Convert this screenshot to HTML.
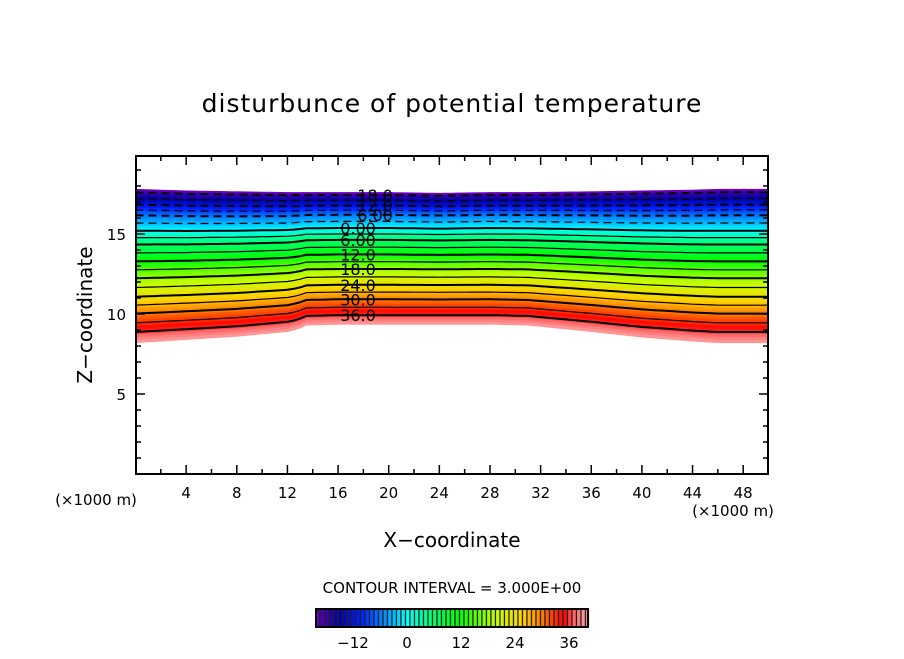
<!DOCTYPE html>
<html><head><meta charset="utf-8"><style>
body{margin:0;background:#fff;}
svg text{font-family:"DejaVu Sans","Liberation Sans",sans-serif;fill:#000;}
</style></head><body>
<svg id="chart" width="904" height="654" viewBox="0 0 904 654" xmlns="http://www.w3.org/2000/svg">
<text x="452" y="112" font-size="25" text-anchor="middle" letter-spacing="1">disturbunce of potential temperature</text>
<g id="fields"></g>
<g id="lines"></g>
<g id="labels"></g>
<rect x="136" y="156" width="632" height="318" fill="none" stroke="#000" stroke-width="2"/>
<g id="axes"></g>
<text transform="translate(92,315) rotate(-90)" font-size="20" text-anchor="middle">Z−coordinate</text>
<text x="452" y="547" font-size="20" text-anchor="middle">X−coordinate</text>
<text x="96" y="505" font-size="15" text-anchor="middle">(×1000 m)</text>
<text x="733" y="516" font-size="15" text-anchor="middle">(×1000 m)</text>
<text x="452" y="593" font-size="15" text-anchor="middle">CONTOUR INTERVAL = 3.000E+00</text>
<g id="cbar"></g>
</svg>
<script>
const NS="http://www.w3.org/2000/svg";
// bottom / top boundary of the field
const stationX=[0,4,8,12,12.8,13.5,16,20,24,28,31,36,40,44,46,50];
const zBottom=[8.2,8.4,8.6,8.9,9.05,9.3,9.35,9.35,9.35,9.35,9.3,8.9,8.55,8.3,8.2,8.2];
const zTop=[17.8,17.7,17.65,17.6,17.6,17.6,17.6,17.6,17.55,17.6,17.6,17.65,17.7,17.75,17.8,17.8];
// vertical profile: value -> fraction between bottom and top
const profVals=[40,36,30,24,18,12,6,0,-6,-12,-18,-21];
const profFrac=[0,0.07,0.19,0.30,0.42,0.53,0.64,0.73,0.83,0.90,0.98,1];
const contourLevels=[-18,-15,-12,-9,-6,-3,0,3,6,9,12,15,18,21,24,27,30,33,36];
const labelLevels=["-18.0","-12.0","-6.00","0.00","6.00","12.0","18.0","24.0","30.0","36.0"];
const labelVals=[-18,-12,-6,0,6,12,18,24,30,36];
const xTicks=[4,8,12,16,20,24,28,32,36,40,44,48];
const yTicks=[5,10,15];
const cbarTicks=[-12,0,12,24,36];
const colorVals=[-21,-15,-10,-4,0,5,12,20,26,30,35,37,40];
const colorHex=["#8000c0","#0000a0","#0020ff","#00a0ff","#00ffff","#00ff80","#00ff00","#c8ff00","#ffd000","#ff8000","#ff0000","#ff6060","#ffa0a0"];

const X=x=>135.5+x*12.66, Y=z=>474-z*16;
function interp(xs,ys,x){for(let i=0;i<xs.length-1;i++){if(x<=xs[i+1]||i==xs.length-2){const t=(x-xs[i])/(xs[i+1]-xs[i]);return ys[i]+t*(ys[i+1]-ys[i]);}}}
function frac(v){const xs=profVals.slice().reverse(),ys=profFrac.slice().reverse();return interp(xs,ys,v);}
function zOf(v,x){const b=interp(stationX,zBottom,x),t=interp(stationX,zTop,x);return b+frac(v)*(t-b);}
function hex2(h){return[1,3,5].map(i=>parseInt(h.substr(i,2),16));}
function color(v){v=Math.max(-21,Math.min(40,v));for(let i=0;i<colorVals.length-1;i++){if(v<=colorVals[i+1]){const t=(v-colorVals[i])/(colorVals[i+1]-colorVals[i]);const a=hex2(colorHex[i]),b=hex2(colorHex[i+1]);return`rgb(${a.map((c,k)=>Math.round(c+t*(b[k]-c))).join(',')})`;}}return colorHex[colorHex.length-1];}
const xs=[];for(let x=0;x<=50.001;x+=0.5)xs.push(x);
const fields=document.getElementById('fields');
for(let v=-21;v<40;v+=1){
  const lo=v+1,hi=v;
  let pts=xs.map(x=>X(x).toFixed(1)+","+Y(zOf(lo,x)).toFixed(1));
  pts=pts.concat(xs.slice().reverse().map(x=>X(x).toFixed(1)+","+Y(zOf(hi,x)).toFixed(1)));
  const p=document.createElementNS(NS,'polygon');
  
  
  p.setAttribute('points',pts.join(' '));p.setAttribute('fill',color(v+0.5));p.setAttribute('stroke',color(v+0.5));p.setAttribute('stroke-width','0.6');
  fields.appendChild(p);
}
const lines=document.getElementById('lines');
contourLevels.forEach(v=>{
  const pl=document.createElementNS(NS,'polyline');
  
  
  pl.setAttribute('points',xs.map(x=>X(x).toFixed(1)+","+Y(zOf(v,x)).toFixed(1)).join(' '));
  pl.setAttribute('fill','none');pl.setAttribute('stroke','#000');pl.setAttribute('stroke-width',v%6==0?'2':'1.2');
  if(v<0)pl.setAttribute('stroke-dasharray','8,5');
  lines.appendChild(pl);
});
const labels=document.getElementById('labels');
labelVals.forEach((v,i)=>{
  const t=document.createElementNS(NS,'text');
  
  
  const xo=v<0?375:358;
  t.setAttribute('x',xo);t.setAttribute('y',Y(zOf(v,18))+6);t.setAttribute('font-size','16');t.setAttribute('text-anchor','middle');
  t.textContent=labelLevels[i].replace('-','');
  labels.appendChild(t);
});
const axes=document.getElementById('axes');
function line(x1,y1,x2,y2,w){const l=document.createElementNS(NS,'line');l.setAttribute('x1',x1);l.setAttribute('y1',y1);l.setAttribute('x2',x2);l.setAttribute('y2',y2);l.setAttribute('stroke','#000');l.setAttribute('stroke-width',w||1.5);axes.appendChild(l);}
for(let x=2;x<50;x+=2){const maj=x%4==0,L=maj?9:5;line(X(x),474,X(x),474-L);line(X(x),156,X(x),156+L);}
for(let z=1;z<20;z++){const maj=z%5==0,L=maj?9:5;line(136,Y(z),136+L,Y(z));line(768,Y(z),768-L,Y(z));}
xTicks.forEach(x=>{const t=document.createElementNS(NS,'text');t.setAttribute('x',X(x));t.setAttribute('y',498);t.setAttribute('font-size','15');t.setAttribute('text-anchor','middle');t.textContent=x;axes.appendChild(t);});
yTicks.forEach(z=>{const t=document.createElementNS(NS,'text');t.setAttribute('x',126);t.setAttribute('y',Y(z)+6);t.setAttribute('font-size','15');t.setAttribute('text-anchor','end');t.textContent=z;axes.appendChild(t);});
const cbar=document.getElementById('cbar');
const CX=v=>407+v*4.5;
const bg=document.createElementNS(NS,'rect');bg.setAttribute('x',316);bg.setAttribute('y',609);bg.setAttribute('width',272);bg.setAttribute('height',18);bg.setAttribute('fill','#222');


cbar.appendChild(bg);
for(let v=-20.2;v<40.2;v+=1){
  const r=document.createElementNS(NS,'rect');
  
  
  r.setAttribute('x',CX(v));r.setAttribute('y',609);r.setAttribute('width',3.2);r.setAttribute('height',18);r.setAttribute('fill',color(v+0.5));
  cbar.appendChild(r);
}
const fr=document.createElementNS(NS,'rect');


fr.setAttribute('x',316);fr.setAttribute('y',609);fr.setAttribute('width',272);fr.setAttribute('height',18);fr.setAttribute('fill','none');fr.setAttribute('stroke','#000');fr.setAttribute('stroke-width','2');
cbar.appendChild(fr);
cbarTicks.forEach(v=>{const t=document.createElementNS(NS,'text');t.setAttribute('x',CX(v));t.setAttribute('y',648);t.setAttribute('font-size','15');t.setAttribute('text-anchor','middle');t.textContent=v<0?'−'+(-v):v;cbar.appendChild(t);});
</script>
</body></html>
